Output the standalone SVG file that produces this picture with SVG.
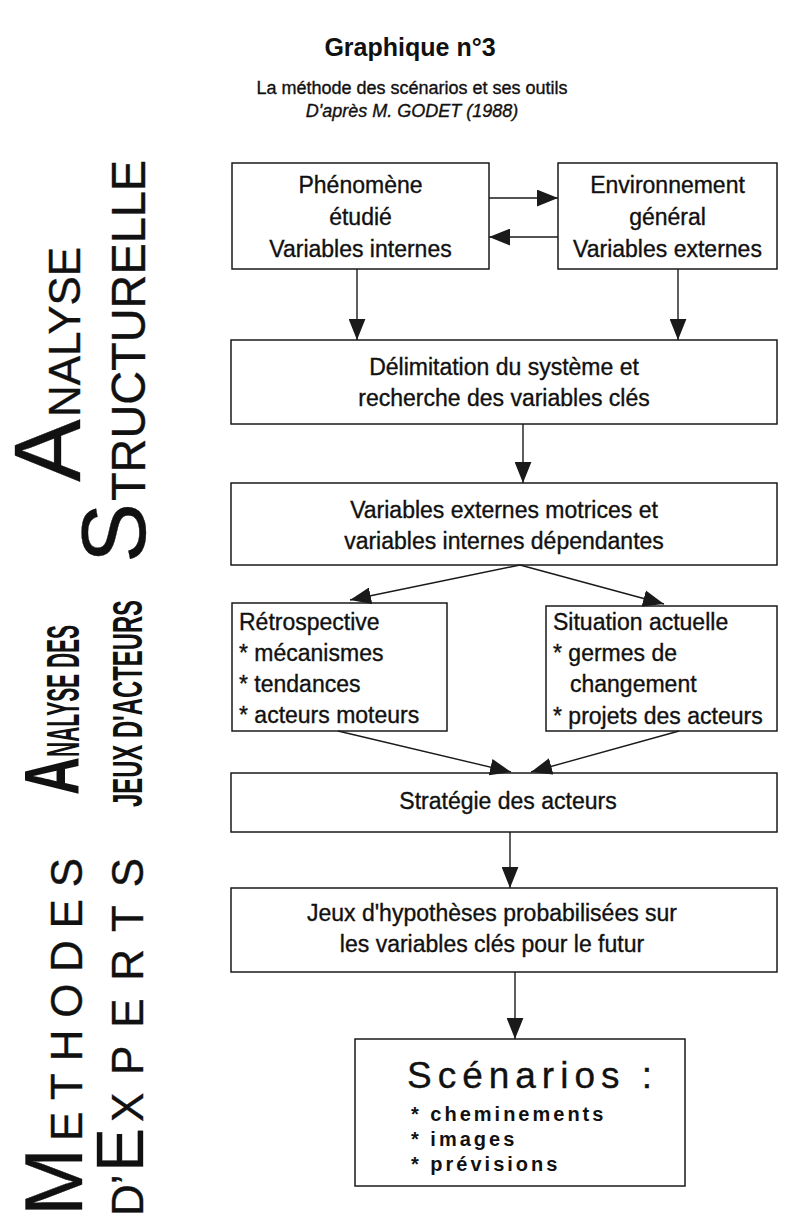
<svg xmlns="http://www.w3.org/2000/svg" width="792" height="1228" viewBox="0 0 792 1228">
<style>
text{font-family:"Liberation Sans",Arial,sans-serif;fill:#111;stroke:#111;stroke-width:0.35}
.box{fill:#fff;stroke:#1a1a1a;stroke-width:1.5}
.t{font-size:23px}
.c{text-anchor:middle}
.n{font-weight:bold;stroke-width:0}
.con line{stroke:#1a1a1a;stroke-width:1.4;marker-end:url(#ah)}
.b{font-size:20px;font-weight:bold;letter-spacing:3px;stroke-width:0}
</style>
<defs>
<marker id="ah" viewBox="0 0 20 16" refX="20" refY="8" markerWidth="21" markerHeight="17" markerUnits="userSpaceOnUse" orient="auto">
<path d="M0,0 L20,8 L0,16 z" fill="#1a1a1a"/>
</marker>
</defs>
<rect width="792" height="1228" fill="#fff"/>
<g id="title">
<text x="410" y="56" class="c" font-size="25" font-weight="bold" style="stroke-width:0">Graphique n°3</text>
<text x="412" y="94" class="c" font-size="18">La méthode des scénarios et ses outils</text>
<text x="412" y="117" class="c" font-size="18" font-style="italic">D'après M. GODET (1988)</text>
</g>
<g id="labels">
<text transform="translate(80,482) rotate(-90)" font-size="94">A</text>
<text transform="translate(80,417) rotate(-90)" font-size="45" textLength="170" lengthAdjust="spacingAndGlyphs">NALYSE</text>
<text transform="translate(145,563) rotate(-90)" font-size="90">S</text>
<text transform="translate(145,501) rotate(-90)" font-size="48" textLength="341" lengthAdjust="spacingAndGlyphs">TRUCTURELLE</text>
<text class="n" transform="translate(79,795) rotate(-90)" font-size="77" textLength="38" lengthAdjust="spacingAndGlyphs">A</text>
<text class="n" transform="translate(79,757) rotate(-90)" font-size="46" textLength="132" lengthAdjust="spacingAndGlyphs">NALYSE DES</text>
<text class="n" transform="translate(142,807) rotate(-90)" font-size="43" textLength="207" lengthAdjust="spacingAndGlyphs">JEUX D'ACTEURS</text>
<text transform="translate(82,1216) rotate(-90)" font-size="82">M</text>
<text transform="translate(82,1141) rotate(-90)" font-size="44" textLength="283">ETHODES</text>
<text transform="translate(143,1216) rotate(-90)" font-size="44">D’</text>
<text transform="translate(143,1172) rotate(-90)" font-size="66">E</text>
<text transform="translate(143,1122) rotate(-90)" font-size="44" textLength="264">XPERTS</text>
</g>
<g id="n1">
<rect class="box" x="232" y="163" width="257" height="106"/>
<text class="t c" x="360.5" y="193">Phénomène</text>
<text class="t c" x="360.5" y="225">étudié</text>
<text class="t c" x="360.5" y="257">Variables internes</text>
</g>
<g id="n2">
<rect class="box" x="558" y="163" width="219" height="106"/>
<text class="t c" x="667.5" y="193">Environnement</text>
<text class="t c" x="667.5" y="225">général</text>
<text class="t c" x="667.5" y="257">Variables externes</text>
</g>
<g id="n3">
<rect class="box" x="231" y="340" width="546" height="84"/>
<text class="t c" x="504" y="375">Délimitation du système et</text>
<text class="t c" x="504" y="406">recherche des variables clés</text>
</g>
<g id="n4">
<rect class="box" x="231" y="483" width="546" height="82"/>
<text class="t c" x="504" y="518">Variables externes motrices et</text>
<text class="t c" x="504" y="549">variables internes dépendantes</text>
</g>
<g id="n5">
<rect class="box" x="232" y="603" width="215" height="128"/>
<text class="t" x="239" y="630">Rétrospective</text>
<text class="t" x="239" y="661">* mécanismes</text>
<text class="t" x="239" y="692">* tendances</text>
<text class="t" x="239" y="723">* acteurs moteurs</text>
</g>
<g id="n6">
<rect class="box" x="546" y="606" width="231" height="125"/>
<text class="t" x="553" y="630">Situation actuelle</text>
<text class="t" x="553" y="661">* germes de</text>
<text class="t" x="570" y="692">changement</text>
<text class="t" x="553" y="724">* projets des acteurs</text>
</g>
<g id="n7">
<rect class="box" x="231" y="773" width="546" height="59"/>
<text class="t c" x="508" y="809">Stratégie des acteurs</text>
</g>
<g id="n8">
<rect class="box" x="231" y="888" width="546" height="84"/>
<text class="t c" x="492" y="921">Jeux d'hypothèses probabilisées sur</text>
<text class="t c" x="492" y="952">les variables clés pour le futur</text>
</g>
<g id="n9">
<rect class="box" x="355" y="1039" width="330" height="147"/>
<text x="407" y="1088" font-size="37" textLength="245">Scénarios :</text>
<text class="b" x="411" y="1121">* cheminements</text>
<text class="b" x="411" y="1146">* images</text>
<text class="b" x="411" y="1171">* prévisions</text>
</g>
<g id="connectors" class="con">
<line x1="489" y1="198" x2="558" y2="198"/>
<line x1="558" y1="237" x2="489" y2="237"/>
<line x1="357" y1="269" x2="357" y2="340"/>
<line x1="678" y1="269" x2="678" y2="340"/>
<line x1="523" y1="424" x2="523" y2="483"/>
<line x1="520" y1="565" x2="350" y2="600"/>
<line x1="520" y1="565" x2="664" y2="604"/>
<line x1="338" y1="731" x2="511" y2="772"/>
<line x1="679" y1="731" x2="531" y2="772"/>
<line x1="510" y1="832" x2="510" y2="888"/>
<line x1="515" y1="972" x2="515" y2="1039"/>
</g>
</svg>
